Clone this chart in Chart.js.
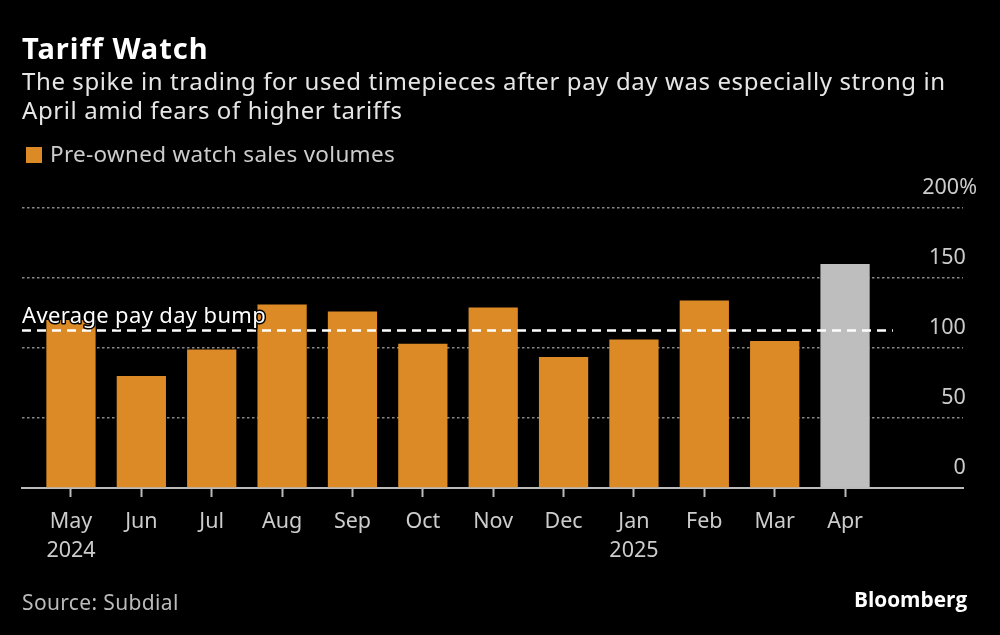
<!DOCTYPE html>
<html>
<head>
<meta charset="utf-8">
<script src="https://cdn.jsdelivr.net/npm/chart.js@4"></script>
<style>
html, body { margin: 0; padding: 0; background: #000; }
body { width: 1000px; height: 635px; position: relative; overflow: hidden; font-family: "Noto Sans", sans-serif; font-variant-ligatures: none; }
#wrap { position: absolute; left: 0; top: 0; width: 1000px; height: 635px; }
.txt { position: absolute; white-space: nowrap; }
#title { left: 22px; top: 31px; font-size: 29px; font-weight: bold; color: #fff; line-height: 34px; letter-spacing: 1px; }
#subtitle { left: 22px; top: 66px; font-size: 24px; color: #e6e6e6; line-height: 29px; letter-spacing: 0.6px; }
#swatch { position: absolute; left: 26px; top: 147px; width: 16px; height: 16px; background: #DB8A26; }
#legend { left: 50px; top: 140px; font-size: 22.5px; color: #ccc; line-height: 28px; letter-spacing: 0.3px; }
#source { left: 22px; top: 589px; font-size: 21px; color: #bbb; line-height: 26px; letter-spacing: 0.35px; }
#logo { left: 854px; top: 584px; font-size: 20.8px; font-weight: bold; color: #fff; line-height: 30px; font-family: "Open Sans", sans-serif; }
</style>
</head>
<body>
<div id="wrap"><canvas id="chart" width="1000" height="635"></canvas></div>
<div class="txt" id="title">Tariff Watch</div>
<div class="txt" id="subtitle">The spike in trading for used timepieces after pay day was especially strong in<br>April amid fears of higher tariffs</div>
<div id="swatch"></div>
<div class="txt" id="legend">Pre-owned watch sales volumes</div>
<div class="txt" id="source">Source: Subdial</div>
<div class="txt" id="logo">Bloomberg</div>
<script>
// ---- Data ----
const months = ['May', 'Jun', 'Jul', 'Aug', 'Sep', 'Oct', 'Nov', 'Dec', 'Jan', 'Feb', 'Mar', 'Apr'];
const years = ['2024', '', '', '', '', '', '', '', '2025', '', '', ''];
const volumes = [120, 80, 99, 131, 126, 103, 129, 93.5, 106, 134, 105, 160];
const yTicks = [0, 50, 100, 150, 200];
const avgBump = 112.5;
const avgLabel = 'Average pay day bump';

const ORANGE = '#DB8A26';
const GREY = '#BEBEBE';
const FONT = '"Noto Sans", sans-serif';

// Label sits above the dashed line, with a black halo so it stays readable over the bar
const avgLabelPlugin = {
    id: 'avgLabel',
    afterDatasetsDraw(chart) {
        const { ctx, chartArea, scales } = chart;
        ctx.save();
        ctx.font = '22px ' + FONT;
        ctx.letterSpacing = '0.35px';
        ctx.textAlign = 'left';
        ctx.textBaseline = 'alphabetic';
        ctx.lineJoin = 'round';
        ctx.lineWidth = 3;
        ctx.strokeStyle = '#000';
        const y = scales.y.getPixelForValue(avgBump) - 8;
        ctx.strokeText(avgLabel, chartArea.left, y);
        ctx.fillStyle = '#fff';
        ctx.fillText(avgLabel, chartArea.left, y);
        ctx.restore();
    }
};

new Chart(document.getElementById('chart').getContext('2d'), {
    data: {
        datasets: [
            {
                type: 'line',
                order: 0,
                data: [{ x: -0.696, y: avgBump }, { x: 11.68, y: avgBump }],
                borderColor: '#fff',
                borderWidth: 2.5,
                borderDash: [9, 6],
                pointRadius: 0
            },
            {
                type: 'bar',
                order: 1,
                label: 'Pre-owned watch sales volumes',
                data: volumes.map((v, i) => ({ x: i, y: v })),
                backgroundColor: months.map((m, i) => i === months.length - 1 ? GREY : ORANGE),
                barPercentage: 0.7,
                categoryPercentage: 1
            }
        ]
    },
    options: {
        responsive: false,
        animation: false,
        layout: { padding: { left: 22, right: 37, top: 208, bottom: 0 } },
        plugins: { legend: { display: false }, title: { display: false }, tooltip: { enabled: false } },
        scales: {
            x: {
                type: 'linear',
                offset: false,
                min: -0.696,
                max: 12.676,
                afterBuildTicks: s => { s.ticks = months.map((m, i) => ({ value: i })); },
                afterFit: s => { s.height = 147; },
                border: { color: '#bbb', width: 2 },
                grid: { offset: false, drawOnChartArea: false, drawTicks: true, tickLength: 9, tickColor: '#bbb', tickWidth: 2 },
                ticks: {
                    autoSkip: false,
                    maxRotation: 0,
                    padding: 10,
                    color: '#ccc',
                    font: { family: FONT, size: 21.5, lineHeight: 1.35 },
                    callback: v => years[v] ? [months[v], years[v]] : months[v]
                }
            },
            y: {
                position: 'right',
                min: 0,
                max: 200,
                afterBuildTicks: s => { s.ticks = yTicks.map(v => ({ value: v })); },
                afterFit: s => { s.width = 0; },
                border: { display: false, dash: [2.5, 2.5] },
                grid: { color: '#888', lineWidth: 1.5, drawTicks: false },
                ticks: {
                    mirror: true,
                    padding: 14,
                    labelOffset: -20,
                    color: '#ccc',
                    font: { family: FONT, size: 21.5 },
                    callback: v => v === 200 ? v + '%' : v + '\u00a0\u00a0'
                }
            }
        }
    },
    plugins: [avgLabelPlugin]
});
</script>
</body>
</html>
